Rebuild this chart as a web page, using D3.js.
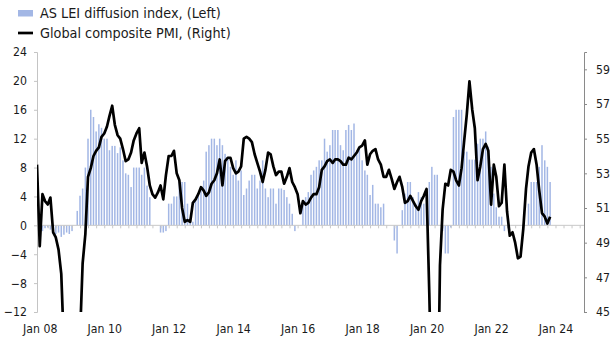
<!DOCTYPE html>
<html><head><meta charset="utf-8">
<script src="https://cdn.jsdelivr.net/npm/d3@7"></script>
<style>
html,body{margin:0;padding:0;background:#fff;}
text{font-family:"DejaVu Sans Condensed","DejaVu Sans",sans-serif;fill:#1a1a1a;}
</style></head>
<body><svg id="chart" width="612" height="348"></svg>
<script>
// Monthly series; first entry = Dec 2007
const startMonth = [2007, 11];
const pmiRight = [53.5,
 48.8,51.8,51.4,51.2,51.6,49.6,49.3,48.6,47.2,43.0,40.0,38.8,
 40.0,40.3,41.8,43.5,47.8,49.5,52.8,53.3,54.0,54.3,54.5,55.1,
 55.3,55.7,56.3,56.9,55.8,55.2,55.0,54.4,53.7,53.8,54.2,54.9,
 55.3,55.6,53.6,54.2,53.4,52.3,51.8,51.6,51.9,52.3,51.5,52.9,
 54.0,54.0,54.3,53.0,52.6,51.0,50.2,50.3,50.2,51.3,51.5,51.8,
 52.2,52.0,51.7,51.9,52.4,52.6,53.0,53.8,52.3,53.7,53.9,53.9,
 53.3,53.0,53.1,53.4,55.0,55.1,55.0,54.8,54.1,53.6,53.1,52.5,
 53.2,54.2,54.1,53.4,52.9,53.1,53.1,52.4,52.8,53.3,52.5,52.2,
 51.8,50.7,51.4,51.2,51.3,51.6,51.8,51.8,52.2,53.2,53.4,53.7,
 53.8,53.6,53.8,53.8,53.7,53.5,53.5,53.9,53.8,54.0,54.2,54.5,
 54.6,54.9,53.5,54.1,54.3,54.4,53.8,53.5,52.8,52.8,53.2,52.7,
 52.1,52.5,52.8,52.2,51.3,51.4,51.7,51.4,51.1,50.9,51.4,51.7,
 52.1,46.1,39.4,26.2,36.3,47.7,50.9,52.4,52.3,53.2,53.1,52.6,
 52.3,53.3,54.8,56.4,58.3,56.7,55.6,52.6,53.4,54.4,54.7,54.3,
 51.2,53.5,52.8,51.1,51.3,53.5,50.8,49.4,49.6,49.0,48.1,48.2,
 49.8,52.1,53.4,54.2,54.4,53.5,52.0,50.7,50.5,50.1,50.5];
const leiLeft = [null,
 -0.5,-0.8,-0.4,-0.3,-0.6,-1.0,-1.2,-1.0,-1.6,-1.3,-1.0,-1.2,
 -0.8,0,2.0,4.1,5.1,8.0,12,16,15,13,14,13.5,
 12,12,10.4,11,11,10,10.8,9,7.2,7,5.3,8,
 8,8,7,8,5.5,3.9,0,0,0,-1.0,-1.0,-0.8,
 3,3,4,4,6,6,6,3,1.0,0.5,3.5,4.4,
 5.1,6.2,10.2,11.1,12.0,12.0,11.1,12.0,11.1,9.9,9.5,8.1,
 7.0,9.0,6.2,7.6,4.2,5.1,6.2,7.0,7.0,5.1,6.2,9.0,
 5.1,3.9,5.1,5.1,3.0,5.1,5.1,4.9,3.9,3.0,1.6,-0.8,
 0,0,3.0,3.9,4.6,7.0,7.6,8.1,9.0,9.0,12.0,10.2,
 11.1,13.2,13.2,13.2,11.1,10.4,13.2,13.9,13.2,14.1,10.4,10.4,
 9.0,7.6,7.0,4.2,5.6,3.0,3.0,2.5,3.0,0,0,0,
 -2.1,-3.9,0,2.1,4.4,6.0,6.0,3.9,3.0,4.6,3.9,3.0,
 4.6,6.0,8.1,7.0,7.0,0,-0.8,-3.9,-3.9,-0.3,15.0,16,
 16,16,10.2,10.2,9.1,9.1,9.1,11.3,12.0,12.0,13.0,10.9,
 8.1,4.4,2.5,1.2,1.2,-0.8,0,0,0,0,0,0,
 0,0,3.0,6.0,6.0,6.0,8.1,11.1,9.0,8.1,6.0];
const leftTicks = [-12,-8,-4,0,4,8,12,16,20,24];
const rightTicks = [45,47,49,51,53,55,57,59];
const xTickYears = [2008,2010,2012,2014,2016,2018,2020,2022,2024];
const legendLabels = ["AS LEI diffusion index, (Left)", "Global composite PMI, (Right)"];

const barColor = "#a3b7e5";
const svg = d3.select("#chart");
const L = 37, R = 584, T = 52, B = 312;

const dates = pmiRight.map((_, i) => new Date(startMonth[0], startMonth[1] + i, 1));
const x = d3.scaleTime().domain([new Date(2007,11,1), new Date(2024,10,19)]).range([L, R]);
const yL = d3.scaleLinear().domain([-12, 24]).range([B, T]);
const yR = d3.scaleLinear().domain([45, 60]).range([B, T]);

svg.append("rect").attr("width",612).attr("height",348).attr("fill","#fff");

svg.append("defs").append("clipPath").attr("id","clip")
  .append("rect").attr("x",L).attr("y",T).attr("width",R-L).attr("height",B-T);

// bars
svg.append("g").selectAll("rect")
  .data(leiLeft.map((v,i)=>({d:dates[i], v})).filter(o=>o.v!==null && o.v!==0))
  .join("rect")
  .attr("x", o => x(o.d) - 0.75)
  .attr("width", 1.5)
  .attr("y", o => yL(Math.max(0, o.v)))
  .attr("height", o => Math.abs(yL(o.v) - yL(0)))
  .attr("fill", barColor);

// zero line with minor ticks
const y0 = yL(0);
const xa = svg.append("g").attr("transform", `translate(0,${y0})`)
  .call(d3.axisBottom(x).ticks(d3.timeMonth.every(3)).tickSize(3).tickFormat(""));
xa.select(".domain").attr("stroke","#c8c8c8").attr("d", `M${L},0H${R}`);
xa.selectAll(".tick line").attr("stroke","#c8c8c8");

// x labels
const xl = svg.append("g").attr("transform", `translate(0,${B})`)
  .call(d3.axisBottom(x).tickValues(xTickYears.map(y=>new Date(y,0,1)))
    .tickSize(0).tickPadding(12).tickFormat(d3.timeFormat("Jan %y")));
xl.select(".domain").remove();
xl.selectAll("text").attr("font-size",12.2).attr("font-family",null);

// left axis
const la = svg.append("g").attr("transform", `translate(${L},0)`)
  .call(d3.axisLeft(yL).tickValues(leftTicks).tickSize(3).tickPadding(7));
la.select(".domain").attr("stroke","#c4c4c4");
la.selectAll(".tick line").attr("stroke","#c4c4c4");
la.selectAll("text").attr("font-size",12.2).attr("font-family",null);

// right axis
const ra = svg.append("g").attr("transform", `translate(${R},0)`)
  .call(d3.axisRight(yR).tickValues(rightTicks).tickSize(3).tickPadding(9));
ra.select(".domain").attr("stroke","#8a8a8a");
ra.selectAll(".tick line").attr("stroke","#8a8a8a");
ra.selectAll("text").attr("font-size",12.2).attr("font-family",null);

// PMI line
svg.append("path")
  .datum(pmiRight.map((v,i)=>({d:dates[i], v})))
  .attr("clip-path","url(#clip)")
  .attr("fill","none").attr("stroke","#000").attr("stroke-width",2.7)
  .attr("stroke-linejoin","round")
  .attr("d", d3.line().x(o=>x(o.d)).y(o=>yR(o.v)));

// legend
const lg = svg.append("g");
lg.append("rect").attr("x",18).attr("y",10).attr("width",15).attr("height",6.5).attr("fill",barColor);
lg.append("text").attr("x",40).attr("y",18).attr("font-size",14.3).text(legendLabels[0]);
lg.append("line").attr("x1",18).attr("x2",33).attr("y1",33).attr("y2",33).attr("stroke","#000").attr("stroke-width",2.7);
lg.append("text").attr("x",40).attr("y",38).attr("font-size",14.3).text(legendLabels[1]);
</script></body></html>
